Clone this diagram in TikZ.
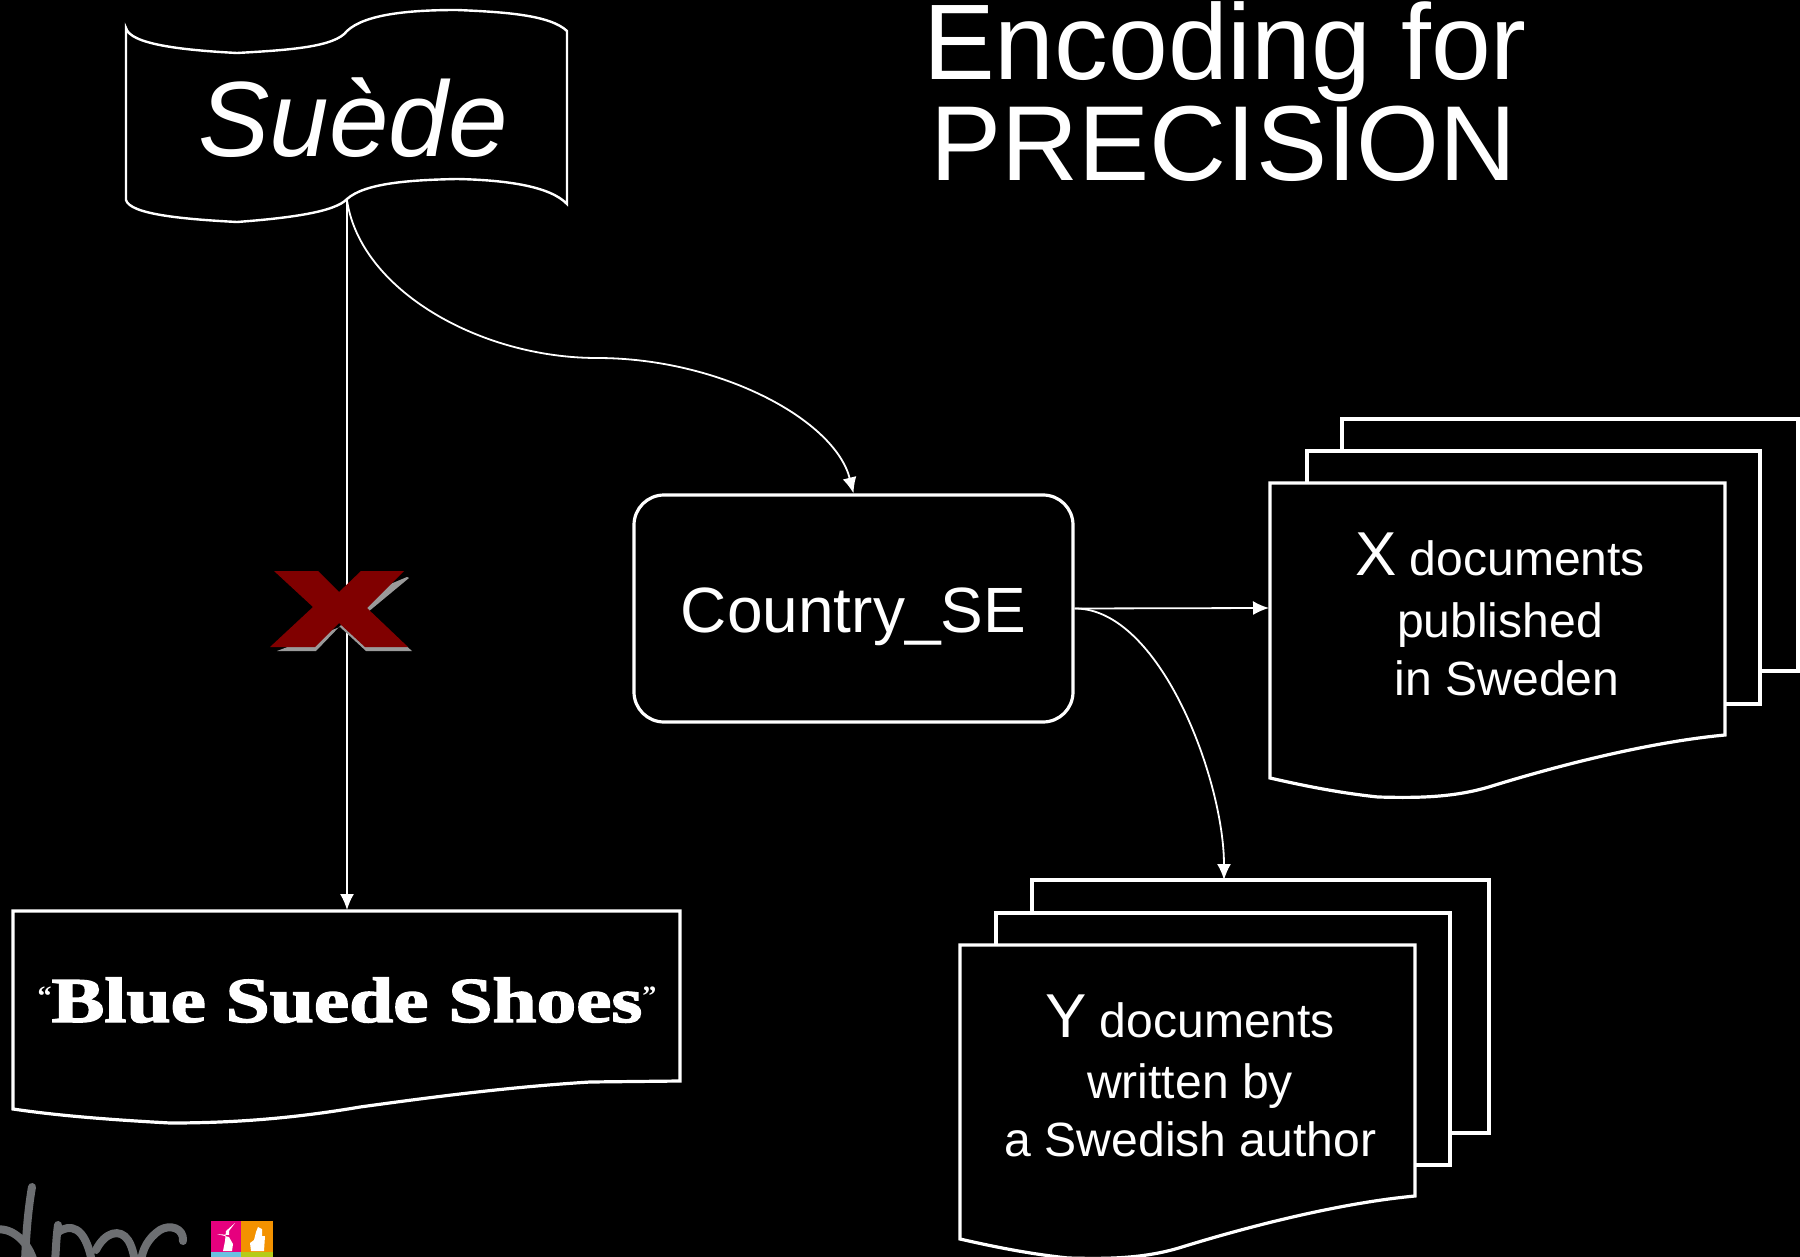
\documentclass[tikz,border=0pt]{standalone}
\usepackage{fontspec}
\usepackage{graphicx}
\usetikzlibrary{arrows.meta}
\setmainfont{Liberation Sans}
\newfontfamily\deco[FakeBold=2]{Liberation Serif}
\newfontfamily\decoq{Liberation Serif}
\newcommand{\fs}[1]{\fontsize{#1}{#1}\selectfont}
\newcommand{\dq}[1]{\raisebox{17pt}{\fs{28}\decoq\bfseries #1}}
\definecolor{maroonx}{HTML}{800000}
\definecolor{shadowx}{HTML}{9A9A9A}
\definecolor{logogrey}{HTML}{6D6F72}
\definecolor{logopink}{HTML}{E6007E}
\definecolor{logoorange}{HTML}{F39200}
\definecolor{logoblue}{HTML}{6CC0E0}
\definecolor{logogreen}{HTML}{B5CC18}
\tikzset{
  shapeline/.style={draw=white,line width=3.2pt,fill=black,line join=miter},
  flagline/.style={draw=white,line width=2.4pt,fill=black},
  conn/.style={draw=white,line width=1.8pt,-{Latex[length=16pt,width=14pt]}},
  label/.style={text=white,anchor=base,inner sep=0pt,outer sep=0pt},
  stroke/.style={draw=logogrey,line width=8pt,line cap=round,line join=round},
}
\begin{document}
\begin{tikzpicture}[x=1pt,y=-1pt]
\fill[black] (0,0) rectangle (1800,1257);
\useasboundingbox (0,0) rectangle (1800,1257);
\clip (0,0) rectangle (1800,1257);
% anchor points
\coordinate (flagfoot) at (347,200);
\coordinate (barhead) at (347,910);
\coordinate (xdoc) at (1269,608);
\coordinate (ydoc) at (1224,880);
% flag
\path[flagline] (126,28) .. controls (130,44) and (180,50) .. (237,53)
  .. controls (290,50) and (335,47) .. (347,31)
  .. controls (365,14) and (410,10) .. (457,10)
  .. controls (505,12) and (550,15) .. (567,31)
  -- (567,204)
  .. controls (550,186) and (505,180) .. (457,179)
  .. controls (410,180) and (365,183) .. (347,199)
  .. controls (335,212) and (290,218) .. (237,222)
  .. controls (180,219) and (130,214) .. (126,200) -- cycle;
\node[label,font=\fs{107}\itshape] (suede) at (353,157) {Suède};
% title
\node[label,font=\fs{107.5}] (title1) at (1225,80) {Encoding for};
\node[label,font=\fs{106.6}] (title2) at (1223.5,181) {PRECISION};
% box
\node[draw=white,line width=3.2pt,rounded corners=30pt,minimum width=439pt,minimum height=227pt,inner sep=0pt] (country) at (853.5,608.5) {};
\node[label,font=\fs{64}] (countrytext) at (853.5,632) {Country\_SE};
% bar
\path[shapeline] (13,911) -- (680,911) -- (680,1081) -- (590,1082)
  .. controls (510,1087) and (440,1096) .. (360,1107)
  .. controls (290,1119) and (230,1123) .. (170,1123)
  .. controls (115,1120) and (60,1116) .. (13,1109) -- cycle;
\node[label,font=\fs{64}\deco\bfseries] (blue) at (347,1022) {\dq{“}\scalebox{1.24}[1]{Blue Suede Shoes}\dq{”}};
% X stack
\path[shapeline] (1342,419) rectangle (1798,671);
\path[shapeline] (1307,451) rectangle (1760,704);
\path[shapeline] (1270,483) -- (1725,483) -- (1725,735)
  .. controls (1650,742) and (1560,765) .. (1492,786)
  .. controls (1454,798) and (1415,798) .. (1378,797)
  .. controls (1340,793) and (1305,786) .. (1270,778) -- cycle;
\node[label,font=\fs{48.1}] (xl1) at (1500,575) {{\fs{62}X} documents};
\node[label,font=\fs{48.1}] (xl2) at (1500,637) {published};
\node[label,font=\fs{48.1}] (xl3) at (1507,695) {in Sweden};
% Y stack
\path[shapeline] (1032,880) rectangle (1489,1133);
\path[shapeline] (996,913) rectangle (1450,1165);
\path[shapeline] (960,945) -- (1415,945) -- (1415,1196)
  .. controls (1340,1203) and (1250,1226) .. (1182,1247)
  .. controls (1144,1259) and (1105,1259) .. (1068,1258)
  .. controls (1030,1254) and (995,1247) .. (960,1239) -- cycle;
\node[label,font=\fs{48.1}] (yl1) at (1190,1037) {{\fs{62}Y} documents};
\node[label,font=\fs{48.1}] (yl2) at (1190,1098) {written by};
\node[label,font=\fs{48.1}] (yl3) at (1190.5,1156) {a Swedish author};
% connectors
\draw[conn] (flagfoot) -- (barhead);
\draw[conn] (flagfoot) .. controls (360,290) and (480,358) .. (597,358)
  .. controls (720,358) and (835,420) .. (country.north);
\draw[conn] (country.east) -- (xdoc);
\draw[conn] (country.east) .. controls (1160,608) and (1224,780) .. (ydoc);
% red cross
\fill[shadowx] (277,651) -- (316,651) -- (341,625) -- (362,596) -- (407,577) -- (409,578) -- (368,612) -- (412,651) -- (366,651) -- (340,627) -- cycle;
\fill[maroonx] (274,571) -- (318,571) -- (339,592) -- (361,571) -- (404,571) -- (367,608) -- (408,647) -- (365,647) -- (339,623) -- (315,647) -- (270,647) -- (313,607) -- cycle;
% logo
\draw[stroke] (32,1187) .. controls (28,1210) and (26,1235) .. (25,1262);
\draw[stroke] (-6,1230) .. controls (10,1226) and (28,1240) .. (34,1262);
\draw[stroke] (58,1225) .. controls (56,1240) and (56,1250) .. (55,1262);
\draw[stroke] (58,1232) .. controls (70,1224) and (85,1225) .. (92,1262);
\draw[stroke] (96,1250) .. controls (105,1232) and (120,1228) .. (128,1240) .. controls (132,1246) and (134,1255) .. (135,1262);
\draw[stroke] (183,1241) .. controls (184,1228) and (170,1224) .. (160,1230) .. controls (148,1238) and (142,1250) .. (141,1262);
\fill[logopink] (211,1221) rectangle (241,1252);
\fill[logoorange] (241,1221) rectangle (273,1252);
\fill[logoblue] (211,1252) rectangle (241,1257);
\fill[logogreen] (241,1252) rectangle (273,1257);
\fill[white] (235,1223) -- (229,1231) -- (229,1235) -- (217,1234) -- (229,1237) -- (233,1244) -- (232,1251) -- (223,1251) -- (225,1241) -- (226,1231) -- cycle;
\fill[white] (258,1227) -- (262,1229) -- (262,1236) -- (265,1236) -- (264,1251) -- (251,1251) -- (250,1243) -- (254,1240) -- (256,1232) -- cycle;
\end{tikzpicture}
\end{document}
